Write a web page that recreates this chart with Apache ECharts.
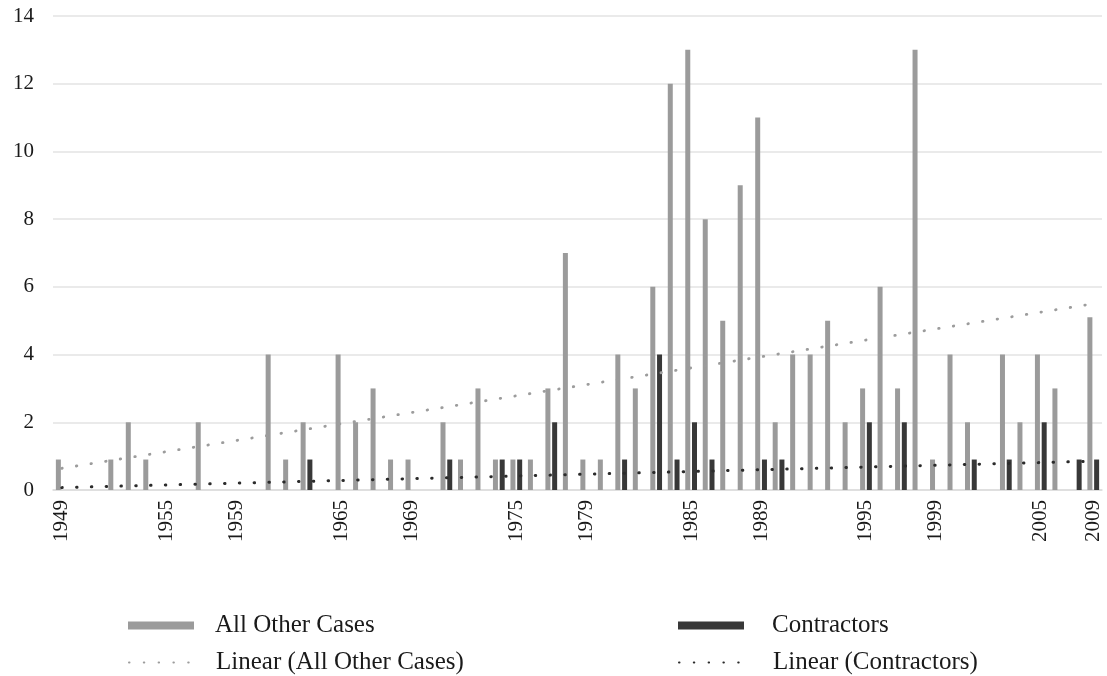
<!DOCTYPE html>
<html>
<head>
<meta charset="utf-8">
<script src="https://cdn.jsdelivr.net/npm/echarts@6/dist/echarts.min.js"></script>
<style>
  html, body { margin: 0; padding: 0; background: #fff; }
  #main { width: 1107px; height: 676px; }
</style>
</head>
<body>
<div id="main"></div>
<script>
// categories (2008 is not in the source axis)
const years = [
  '1949', '1950', '1951', '1952', '1953', '1954', '1955', '1956', '1957', '1958',
  '1959', '1960', '1961', '1962', '1963', '1964', '1965', '1966', '1967', '1968',
  '1969', '1970', '1971', '1972', '1973', '1974', '1975', '1976', '1977', '1978',
  '1979', '1980', '1981', '1982', '1983', '1984', '1985', '1986', '1987', '1988',
  '1989', '1990', '1991', '1992', '1993', '1994', '1995', '1996', '1997', '1998',
  '1999', '2000', '2001', '2002', '2003', '2004', '2005', '2006', '2007', '2009'
]

const allOtherCases = [
  0.9, 0, 0, 0.9, 2, 0.9, 0, 0, 2, 0,
  0, 0, 4, 0.9, 2, 0, 4, 2, 3, 0.9,
  0.9, 0, 2, 0.9, 3, 0.9, 0.9, 0.9, 3, 7,
  0.9, 0.9, 4, 3, 6, 12, 13, 8, 5, 9,
  11, 2, 4, 4, 5, 2, 3, 6, 3, 13,
  0.9, 4, 2, 0, 4, 2, 4, 3, 0, 5.1
]

const contractors = [
  0, 0, 0, 0, 0, 0, 0, 0, 0, 0,
  0, 0, 0, 0, 0.9, 0, 0, 0, 0, 0,
  0, 0, 0.9, 0, 0, 0.9, 0.9, 0, 2, 0,
  0, 0, 0.9, 0, 4, 0.9, 2, 0.9, 0, 0,
  0.9, 0.9, 0, 0, 0, 0, 2, 0, 2, 0,
  0, 0, 0.9, 0, 0.9, 0, 2, 0, 0.9, 0.9
]

// trend line end points
const trendOther = [['1949', 0.64], ['2009', 5.5]]
const trendContractors = [['1949', 0.07], ['2009', 0.85]]

const shownLabels = ['1949', '1955', '1959', '1965', '1969', '1975', '1979',
  '1985', '1989', '1995', '1999', '2005', '2009']

const font = '"Liberation Serif", "Times New Roman", serif'
const grayBar = '#9b9b9b'
const darkBar = '#383838'

const myChart = echarts.init(document.getElementById('main'))

function legendAt(name, left, top, textPad, isLine) {
  const lg = {
    data: [name],
    left: left,
    top: top,
    padding: 0,
    itemWidth: 66,
    itemHeight: 8,
    selectedMode: false,
    textStyle: {
      fontFamily: font,
      fontSize: 25,
      color: '#1a1a1a',
      lineHeight: 24,
      padding: [0, 0, 0, textPad]
    }
  }
  if (isLine) {
    lg.itemStyle = { opacity: 0 }
  } else {
    lg.icon = 'rect'
  }
  return lg
}

myChart.setOption({
  animation: false,
  grid: { left: 53, right: 5, top: 16, bottom: 186, containLabel: false },
  legend: [
    legendAt('All Other Cases', 128, 613, 16, false),
    legendAt('Contractors', 678, 613, 23, false),
    legendAt('Linear (All Other Cases)', 128, 650, 16, true),
    legendAt('Linear (Contractors)', 678, 650, 23, true)
  ],
  xAxis: {
    type: 'category',
    data: years,
    axisTick: { show: false },
    axisLine: { lineStyle: { color: '#dcdcdc', width: 1.5 } },
    axisLabel: {
      rotate: 90,
      margin: 10,
      fontFamily: font,
      fontSize: 21,
      color: '#1a1a1a',
      interval: (index, value) => shownLabels.includes(value)
    }
  },
  yAxis: {
    type: 'value',
    min: 0,
    max: 14,
    interval: 2,
    axisLine: { show: false },
    axisTick: { show: false },
    splitLine: { lineStyle: { color: '#e3e3e3', width: 1.5 } },
    axisLabel: {
      margin: 19,
      fontFamily: font,
      fontSize: 21,
      color: '#1a1a1a'
    }
  },
  series: [
    {
      name: 'All Other Cases',
      type: 'bar',
      data: allOtherCases,
      barWidth: 5,
      barGap: '35%',
      itemStyle: { color: grayBar }
    },
    {
      name: 'Contractors',
      type: 'bar',
      data: contractors,
      barWidth: 5,
      itemStyle: { color: darkBar }
    },
    {
      name: 'Linear (All Other Cases)',
      type: 'line',
      data: trendOther,
      symbol: 'none',
      z: 5,
      lineStyle: { color: '#9c9c9c', width: 2.8, type: [0.5, 14.3], cap: 'round' },
      itemStyle: { color: '#9c9c9c' }
    },
    {
      name: 'Linear (Contractors)',
      type: 'line',
      data: trendContractors,
      symbol: 'none',
      z: 5,
      lineStyle: { color: '#2b2b2b', width: 3, type: [0.5, 14.3], cap: 'round' },
      itemStyle: { color: '#2b2b2b' }
    }
  ]
})
</script>
</body>
</html>
